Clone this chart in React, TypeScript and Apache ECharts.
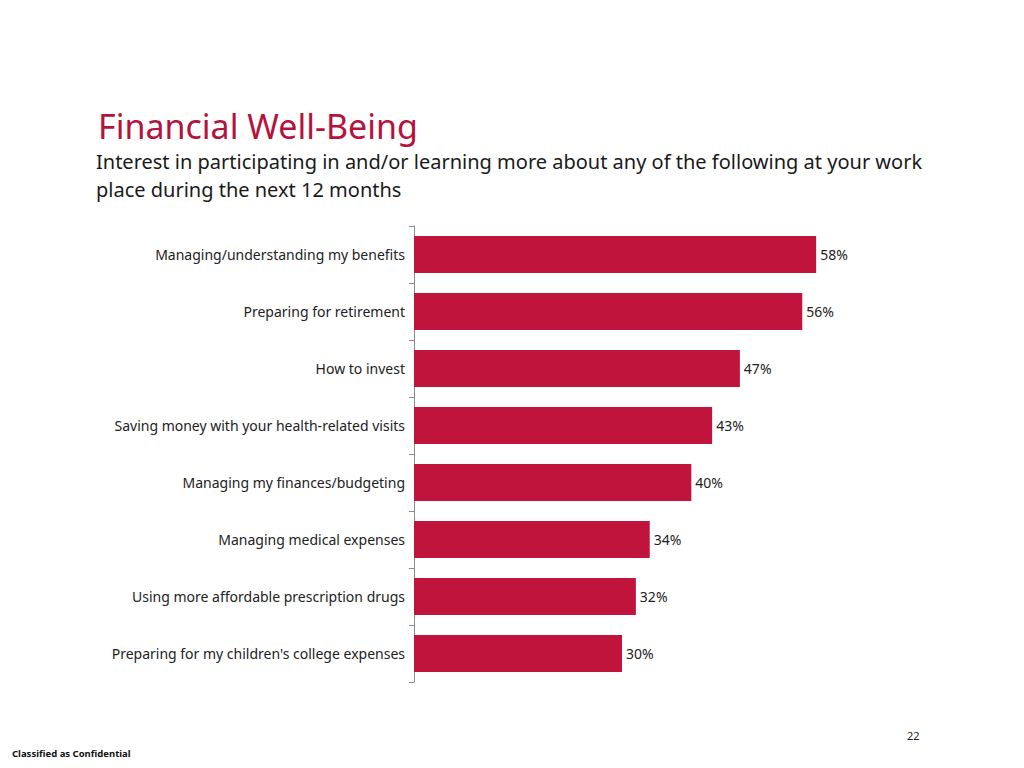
import { useEffect, useRef } from 'react'
import * as echarts from 'echarts'

const categories = [
  'Managing/understanding my benefits',
  'Preparing for retirement',
  'How to invest',
  'Saving money with your health-related visits',
  'Managing my finances/budgeting',
  'Managing medical expenses',
  'Using more affordable prescription drugs',
  "Preparing for my children's college expenses",
]

const values = [58, 56, 47, 43, 40, 34, 32, 30]

const RED = '#C0143C'
const FONT = '"Noto Sans", "Open Sans", sans-serif'

export default function App() {
  const chartRef = useRef<HTMLDivElement>(null)

  useEffect(() => {
    if (!chartRef.current) return
    const chart = echarts.init(chartRef.current, null, { renderer: 'svg' })

    const option = {
      animation: false,
      backgroundColor: '#ffffff',
      textStyle: { fontFamily: FONT },
      title: {
        text: 'Financial Well-Being',
        left: 93,
        top: 104,
        textStyle: { fontSize: 34, fontWeight: 'normal', color: '#B5123E', fontFamily: FONT },
      },
      graphic: [
        {
          type: 'text',
          left: 96,
          top: 147,
          style: {
            text: 'Interest in participating in and/or learning more about any of the following at your work\nplace during the next 12 months',
            font: `20px ${FONT}`,
            lineHeight: 28,
            fill: '#1a1a1a',
          },
        },
        {
          type: 'text',
          left: 907,
          top: 730,
          style: { text: '22', font: `11px ${FONT}`, fill: '#222' },
        },
        {
          type: 'text',
          left: 12,
          top: 748,
          style: { text: 'Classified as Confidential', font: `bold 9.5px ${FONT}`, fill: '#111' },
        },
      ],
      grid: { left: 414, top: 226, width: 416, height: 456 },
      xAxis: {
        type: 'value',
        min: 0,
        max: 60,
        show: false,
      },
      yAxis: {
        type: 'category',
        inverse: true,
        data: categories,
        axisLine: { show: true, lineStyle: { color: '#8c8c8c', width: 1 } },
        axisTick: { show: true, length: 5, lineStyle: { color: '#8c8c8c' } },
        axisLabel: { color: '#222', fontSize: 14, margin: 9, fontFamily: FONT },
        splitLine: { show: false },
      },
      series: [
        {
          type: 'bar',
          data: values,
          barCategoryGap: '35%',
          itemStyle: { color: RED },
          label: {
            show: true,
            position: 'right',
            distance: 4,
            formatter: '{c}%',
            color: '#222',
            fontSize: 14,
            fontFamily: FONT,
          },
        },
      ],
    }

    chart.setOption(option)
    return () => {
      chart.dispose()
    }
  }, [])

  return (
    <div
      ref={chartRef}
      style={{ position: 'fixed', left: 0, top: 0, width: '1024px', height: '768px' }}
    />
  )
}
